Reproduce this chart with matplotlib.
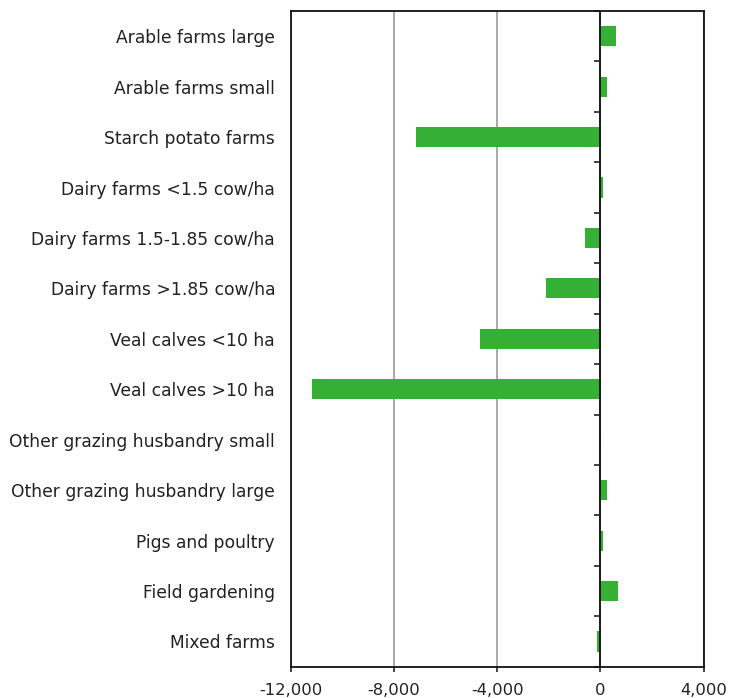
import matplotlib
matplotlib.use('Agg')
import matplotlib.pyplot as plt
from matplotlib.ticker import FuncFormatter
import numpy as np

categories = [
    "Arable farms large",
    "Arable farms small",
    "Starch potato farms",
    "Dairy farms <1.5 cow/ha",
    "Dairy farms 1.5-1.85 cow/ha",
    "Dairy farms >1.85 cow/ha",
    "Veal calves <10 ha",
    "Veal calves >10 ha",
    "Other grazing husbandry small",
    "Other grazing husbandry large",
    "Pigs and poultry",
    "Field gardening",
    "Mixed farms",
]
values = [620, 250, -7170, 90, -600, -2100, -4680, -11170, 20, 250, 100, 670, -130]
x_ticks = [-12000, -8000, -4000, 0, 4000]
x_min, x_max = -12000, 4000

plt.rcParams['font.family'] = ['DejaVu Sans']

fig = plt.figure(figsize=(7.29, 6.98), dpi=100)
ax = fig.add_axes([291 / 729, 1 - 666.7 / 698, (703.5 - 291) / 729, (666.7 - 11) / 698])

pos = np.arange(len(categories))
ax.barh(pos, values, height=0.4, color='#35b035', zorder=3)

ax.set_xlim(x_min, x_max)
ax.set_ylim(len(categories) - 0.5, -0.5)
ax.set_xticks(x_ticks)
ax.xaxis.set_major_formatter(FuncFormatter(lambda v, p: f'{int(v):,}'))
ax.set_yticks(pos)
ax.set_yticklabels(categories)
ax.tick_params(axis='y', length=0, pad=11.5, labelsize=12.3, labelcolor='#222222')
ax.tick_params(axis='x', length=3.8, width=1.1, direction='out', pad=8,
               labelsize=11.8, labelcolor='#222222', color='#111111')

ax.set_axisbelow(True)
ax.grid(axis='x', color='#999999', linewidth=1.2)
ax.grid(axis='y', visible=False)

for s in ax.spines.values():
    s.set_linewidth(1.3)
    s.set_color('#111111')

# zero reference line with category-boundary ticks
ax.axvline(0, color='#111111', linewidth=1.3, zorder=4)
zero_loc = (0 - x_min) / (x_max - x_min)
sec = ax.secondary_yaxis(zero_loc)
sec.set_alignment('left')
sec.set_yticks(np.arange(-0.5, len(categories), 1.0))
sec.tick_params(axis='y', length=4.0, width=1.1, direction='out', labelleft=False,
                labelright=False, color='#111111')
for s in sec.spines.values():
    s.set_visible(False)

fig.savefig('out.png', dpi=100)
